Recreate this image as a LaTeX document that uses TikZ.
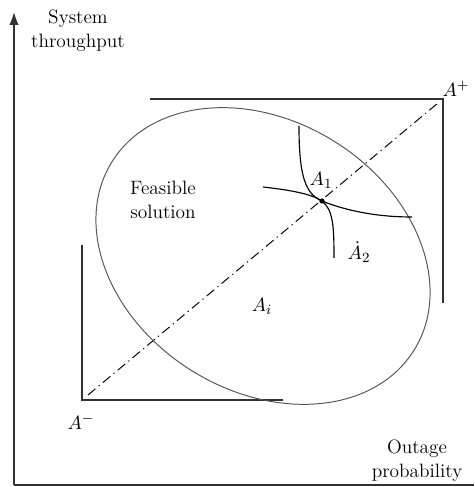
\documentclass[tikz,border=0pt]{standalone}
\usetikzlibrary{arrows.meta}
\definecolor{axisgray}{RGB}{50,50,50}
\definecolor{curvegray}{RGB}{85,85,85}

\begin{document}
\begin{tikzpicture}[x=0.02cm,y=0.02cm,
      axis/.style={line width=0.75pt,axisgray},
      bracket/.style={line width=0.7pt,axisgray},
      region/.style={line width=0.55pt,curvegray},
      front/.style={line width=0.65pt,black},
      ideal/.style={line width=0.55pt,black,
                    dash pattern=on 5.5pt off 2.4pt on 0.7pt off 2.4pt},
      lbl/.style={inner sep=1pt,align=center,font=\fontsize{11}{13.5}\selectfont}]
    \useasboundingbox (0,0) rectangle (474,487);

    % ---- axes ----------------------------------------------------------
    \coordinate (origin) at (14,2);
    \coordinate (ytop) at (14,475);
    \coordinate (xend) at (474,2);
    \draw[axis,-{Latex[length=2.6mm,width=1.9mm]}] (origin) -- (ytop);
    \draw[axis] (origin) -- (xend);
    \node[lbl] (ylab) at (78,456) {System\\throughput};
    \node[lbl] (xlab) at (417,26) {Outage\\probability};

    % ---- negative / positive ideal corners -----------------------------
    \coordinate (negtop) at (82,242);
    \coordinate (neg) at (82,87);
    \coordinate (negright) at (283,87);
    \draw[bracket] (negtop) -- (neg) -- (negright);
    \node[lbl] (aneg) at (81,65) {$A^{-}$};

    \coordinate (posleft) at (150,388);
    \coordinate (pos) at (443,388);
    \coordinate (posdown) at (443,184);
    \draw[bracket] (posleft) -- (pos) -- (posdown);
    \node[lbl] (apos) at (456,398) {$A^{+}$};

    % ---- ideal line ----------------------------------------------------
    \coordinate (idealstart) at (88,92);
    \coordinate (idealend) at (438,384);
    \draw[ideal] (idealstart) -- (idealend);

    % ---- feasible region -----------------------------------------------
    \coordinate (centre) at (263,231);
    \draw[region,rotate around={-32:(centre)}] (centre) ellipse [x radius=178,y radius=135];
    \node[lbl] (feas) at (163,287) {Feasible\\solution};
    \node[lbl] (ai) at (262,181) {$A_i$};

    % ---- pareto curves through A1 --------------------------------------
    \coordinate (a1) at (322,286);
    \coordinate (c1top) at (299,361);
    \coordinate (c1end) at (412,270);
    \coordinate (c2left) at (263,300);
    \coordinate (c2end) at (334,229);
    \draw[front] (c1top) .. controls (299,312) and (305,293) .. (a1)
                 .. controls (342,278) and (372,270) .. (c1end);
    \draw[front] (c2left) .. controls (290,297) and (312,293) .. (a1)
                 .. controls (333,277) and (334,262) .. (c2end);
    \fill (a1) circle (2.6);
    \node[lbl] (a1lab) at (321,307) {$A_1$};
    \node[lbl] (a2lab) at (359,235) {$\dot{A}_2$};
  \end{tikzpicture}
\end{document}
